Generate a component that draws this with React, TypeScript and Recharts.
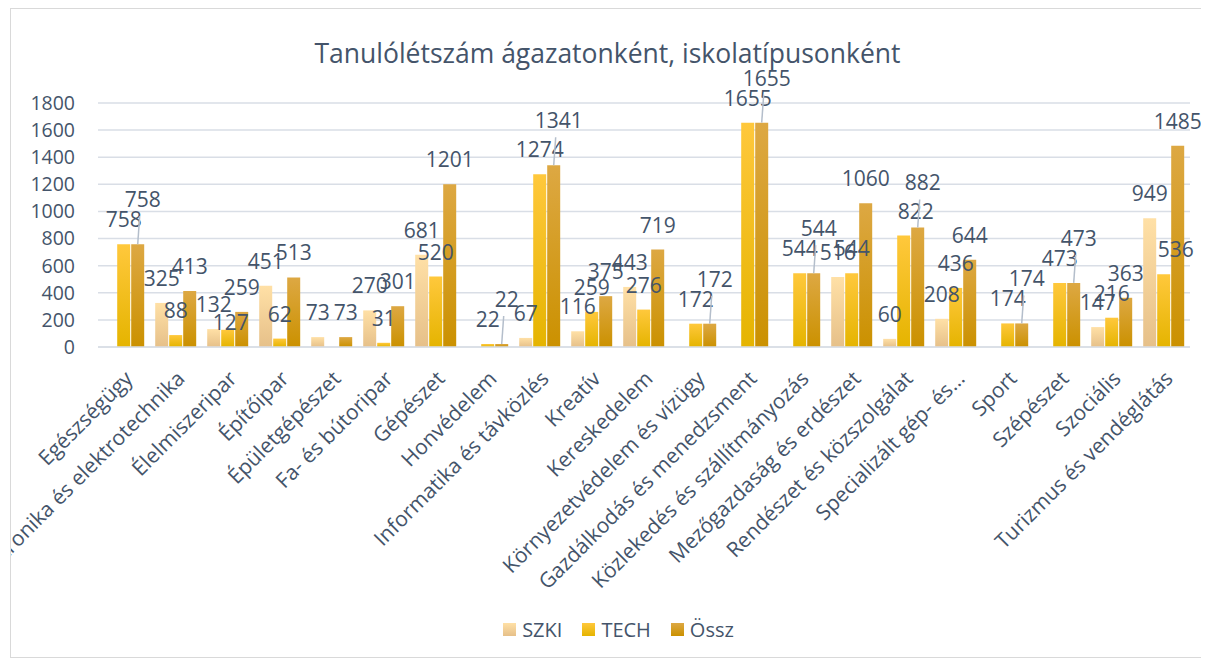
import { BarChart, Bar, XAxis, YAxis, CartesianGrid, Legend, LabelList } from 'recharts';

// Ágazatok (categories)
const CATEGORIES = [
  'Egészségügy',
  'Elektronika és elektrotechnika',
  'Élelmiszeripar',
  'Építőipar',
  'Épületgépészet',
  'Fa- és bútoripar',
  'Gépészet',
  'Honvédelem',
  'Informatika és távközlés',
  'Kreatív',
  'Kereskedelem',
  'Környezetvédelem és vízügy',
  'Gazdálkodás és menedzsment',
  'Közlekedés és szállítmányozás',
  'Mezőgazdaság és erdészet',
  'Rendészet és közszolgálat',
  'Specializált gép- és…',
  'Sport',
  'Szépészet',
  'Szociális',
  'Turizmus és vendéglátás',
];

const SZKI = [0, 325, 132, 451, 73, 270, 681, null, 67, 116, 443, null, null, null, 516, 60, 208, null, null, 147, 949];
const TECH = [758, 88, 127, 62, null, 31, 520, 22, 1274, 259, 276, 172, 1655, 544, 544, 822, 436, 174, 473, 216, 536];
const OSSZ = [758, 413, 259, 513, 73, 301, 1201, 22, 1341, 375, 719, 172, 1655, 544, 1060, 882, 644, 174, 473, 363, 1485];

const Y_TICKS = [0, 200, 400, 600, 800, 1000, 1200, 1400, 1600, 1800];

const TEXT = '#44546A';
const FONT = '"Open Sans", sans-serif';

const data = CATEGORIES.map((name, i) => ({
  name,
  szki: SZKI[i],
  tech: TECH[i],
  ossz: OSSZ[i],
}));

const SERIES = [
  { key: 'szki', label: 'SZKI', grad: 'gSzki', top: '#FFE0A6', bottom: '#E6C089' },
  { key: 'tech', label: 'TECH', grad: 'gTech', top: '#FFC83C', bottom: '#E5B400' },
  { key: 'ossz', label: 'Össz', grad: 'gOssz', top: '#DDA843', bottom: '#CB9100' },
];

function CategoryTick({ x, y, payload }: { x?: number; y?: number; payload?: { value: string } }) {
  return (
    <g transform={`translate(${(x ?? 0) + 10},${(y ?? 0) + 31})`}>
      <text transform="rotate(-45)" textAnchor="end" fill={TEXT} fontSize={21} fontFamily={FONT}>
        {payload?.value}
      </text>
    </g>
  );
}

function LegendContent() {
  return (
    <div
      style={{
        display: 'flex',
        justifyContent: 'center',
        gap: 20,
        paddingLeft: 22,
        fontFamily: FONT,
        fontSize: 20,
        color: TEXT,
      }}
    >
      {SERIES.map((s) => (
        <div key={s.key} style={{ display: 'flex', alignItems: 'center', gap: 6 }}>
          <div
            style={{
              width: 13,
              height: 13,
              background: `linear-gradient(${s.top}, ${s.bottom})`,
            }}
          />
          <span>{s.label}</span>
        </div>
      ))}
    </div>
  );
}

const isNum = (v: number | null | undefined): v is number => v !== null && v !== undefined;

// Excel-like data labels: Össz is lifted (with a leader line) when it would sit on the TECH label,
// and the smaller of SZKI/TECH drops onto its bar when the two are nearly equal.
function makeLabel(seriesKey: string) {
  return function ValueLabel(props: any) {
    const { x, y, width, value, index } = props;
    if (value === null || value === undefined) return null;
    const cx = Number(x) + Number(width) / 2;
    const top = Number(y);
    let dx = 0;
    let baseline = top - 17;
    let lifted = false;
    const s = SZKI[index];
    const t = TECH[index];
    if (seriesKey === 'ossz' && isNum(t) && Math.abs(OSSZ[index] - t) < 80) {
      lifted = true;
      dx = 5;
      baseline = top - 37;
    }
    if ((seriesKey === 'szki' || seriesKey === 'tech') && isNum(s) && isNum(t) && s > 0 && Math.abs(s - t) < 100) {
      const mine = seriesKey === 'szki' ? s : t;
      const other = seriesKey === 'szki' ? t : s;
      if (mine < other) {
        baseline = top;
        dx = seriesKey === 'szki' ? -6 : 3;
      } else if (seriesKey === 'tech') {
        dx = 12;
      }
    }
    return (
      <g>
        {lifted && (
          <line x1={cx} y1={top} x2={cx + 2} y2={baseline + 9} stroke="#B4BECB" strokeWidth={1.5} />
        )}
        <text x={cx + dx} y={baseline} textAnchor="middle" fill={TEXT} fontSize={21} fontFamily={FONT}>
          {value}
        </text>
      </g>
    );
  };
}

export default function App() {
  return (
    <div
      style={{
        position: 'relative',
        marginLeft: 2,
        width: 1193,
        height: 648,
        border: '1px solid #D9D9D9',
        background: '#fff',
      }}
    >
      <div
        style={{
          position: 'absolute',
          top: 27,
          left: 0,
          width: '100%',
          textAlign: 'center',
          fontFamily: FONT,
          fontSize: 26.5,
          lineHeight: '34px',
          color: TEXT,
        }}
      >
        Tanulólétszám ágazatonként, iskolatípusonként
      </div>
      <BarChart
        width={1193}
        height={648}
        data={data}
        margin={{ top: 94, right: 14, bottom: 10, left: 27 }}
        barGap={1}
        barCategoryGap="10%"
      >
        <defs>
          {SERIES.map((s) => (
            <linearGradient key={s.grad} id={s.grad} x1="0" y1="0" x2="0" y2="1">
              <stop offset="0%" stopColor={s.top} />
              <stop offset="100%" stopColor={s.bottom} />
            </linearGradient>
          ))}
        </defs>
        <CartesianGrid vertical={false} stroke="#D9DEE6" strokeWidth={1.5} />
        <XAxis
          dataKey="name"
          interval={0}
          height={300}
          tickLine={false}
          tickSize={0}
          axisLine={{ stroke: '#D9DEE6', strokeWidth: 1.5 }}
          tick={<CategoryTick />}
        />
        <YAxis
          width={60}
          domain={[0, 1800]}
          ticks={Y_TICKS}
          axisLine={false}
          tickLine={false}
          tickSize={0}
          tickMargin={23}
          tick={{ fill: TEXT, fontSize: 19.5, fontFamily: FONT }}
        />
        <Legend
          verticalAlign="middle"
          align="center"
          content={<LegendContent />}
          wrapperStyle={{ top: 607, left: 0, width: 1193 }}
        />
        {SERIES.map((s) => (
          <Bar key={s.key} dataKey={s.key} name={s.label} fill={`url(#${s.grad})`} isAnimationActive={false}>
            <LabelList dataKey={s.key} content={makeLabel(s.key)} />
          </Bar>
        ))}
      </BarChart>
    </div>
  );
}
